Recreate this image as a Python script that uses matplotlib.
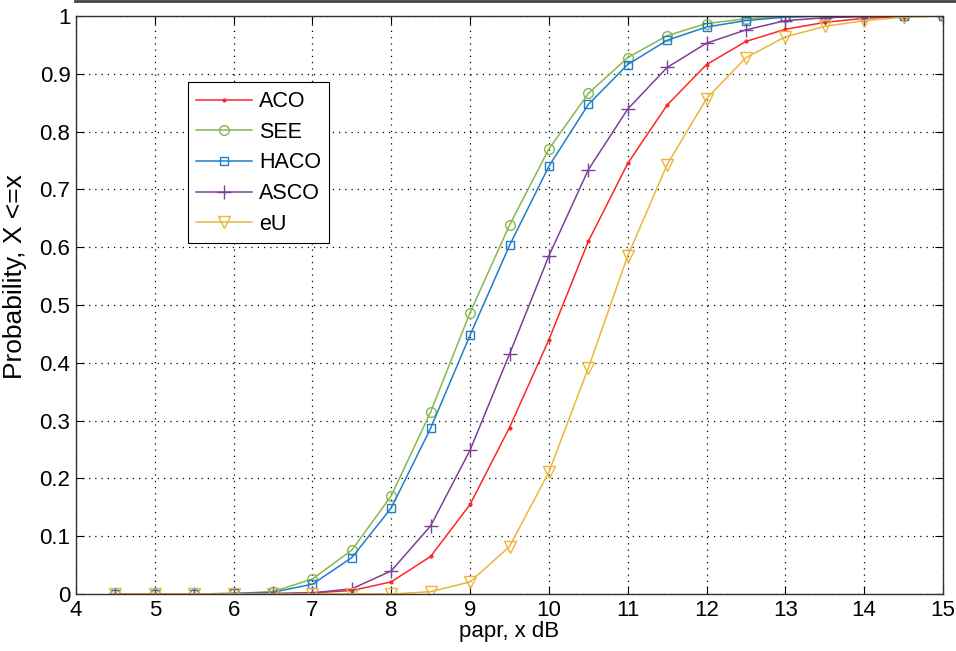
import matplotlib
matplotlib.use("Agg")
import matplotlib.pyplot as plt
from matplotlib.lines import Line2D

plt.rcParams['font.family'] = ['Liberation Sans', 'DejaVu Sans']

x = [4.5, 5, 5.5, 6, 6.5, 7, 7.5, 8, 8.5, 9, 9.5, 10, 10.5, 11, 11.5, 12, 12.5, 13, 13.5, 14, 14.5, 15]

aco = [0, 0, 0, 0, 0, 0.002, 0.006, 0.021, 0.065, 0.155, 0.288, 0.44, 0.61, 0.745, 0.846, 0.916, 0.956, 0.977, 0.989, 0.996, 0.999, 1.0]
see = [0, 0, 0, 0.001, 0.004, 0.026, 0.076, 0.170, 0.315, 0.487, 0.638, 0.770, 0.866, 0.928, 0.966, 0.987, 0.995, 0.999, 1.0, 1.0, 1.0, 1.0]
haco = [0, 0, 0, 0.001, 0.003, 0.017, 0.063, 0.149, 0.287, 0.448, 0.603, 0.740, 0.847, 0.916, 0.958, 0.981, 0.992, 0.998, 1.0, 1.0, 1.0, 1.0]
asco = [0, 0, 0, 0, 0.001, 0.002, 0.009, 0.040, 0.118, 0.249, 0.415, 0.585, 0.734, 0.839, 0.911, 0.953, 0.976, 0.992, 0.997, 0.999, 1.0, 1.0]
eu = [0, 0, 0, 0, 0, 0, 0, 0, 0.004, 0.021, 0.082, 0.211, 0.391, 0.585, 0.743, 0.857, 0.928, 0.964, 0.982, 0.992, 0.998, 1.0]

labels = ['ACO', 'SEE', 'HACO', 'ASCO', 'eU']
xticks = list(range(4, 16))
yticks = [0, 0.1, 0.2, 0.3, 0.4, 0.5, 0.6, 0.7, 0.8, 0.9, 1]
yticklabels = ['0', '0.1', '0.2', '0.3', '0.4', '0.5', '0.6', '0.7', '0.8', '0.9', '1']

fig = plt.figure(figsize=(9.56, 6.51), dpi=100)
ax = fig.add_axes([76/956, 1-594/651, (943-76)/956, (594-16)/651])

styles = [
    dict(color='#FF2626', marker='.', markersize=4, mfc='#FF2626'),
    dict(color='#86B84F', marker='o', markersize=7, mfc='none'),
    dict(color='#1F7FC8', marker='s', markersize=6, mfc='none'),
    dict(color='#7E3F98', marker='+', markersize=10, mew=1.0),
    dict(color='#EDB53A', marker='v', markersize=8, mfc='none'),
]
series = [aco, see, haco, asco, eu]
for lab, ys, st in zip(labels, series, styles):
    ax.plot(x, ys, label=lab, linewidth=1.1, **st)

ax.set_xlim(4, 15)
ax.set_ylim(0, 1)
ax.set_xticks(xticks)
ax.set_xticklabels([str(t) for t in xticks])
ax.set_yticks(yticks)
ax.set_yticklabels(yticklabels)
ax.grid(True, color='black', linestyle=(0, (1, 4)), linewidth=0.9)
ax.tick_params(direction='in', top=True, right=True, labelsize=16, length=6, width=0.8, pad=4)
for s in ax.spines.values():
    s.set_linewidth(1.0)
    s.set_color('#333333')

ax.set_xlabel('papr, x dB', fontsize=16, labelpad=0)
ax.set_ylabel('Probability, X <=x', fontsize=19)
ax.yaxis.set_label_coords(-(76-27)/867, (594-277)/578)

leg = ax.legend(loc='upper left', bbox_to_anchor=(0.129, 0.885), fontsize=15.5,
                frameon=True, fancybox=False, edgecolor='black', framealpha=1,
                handlelength=2.6, handletextpad=0.3, labelspacing=0.45, borderpad=0.4,
                borderaxespad=0)
leg.get_frame().set_linewidth(0.8)

fig.add_artist(Line2D([75/956, 1], [1-1/651, 1-1/651], color='#444444', linewidth=2, transform=fig.transFigure))

fig.savefig('out.png', dpi=100, facecolor='white')
